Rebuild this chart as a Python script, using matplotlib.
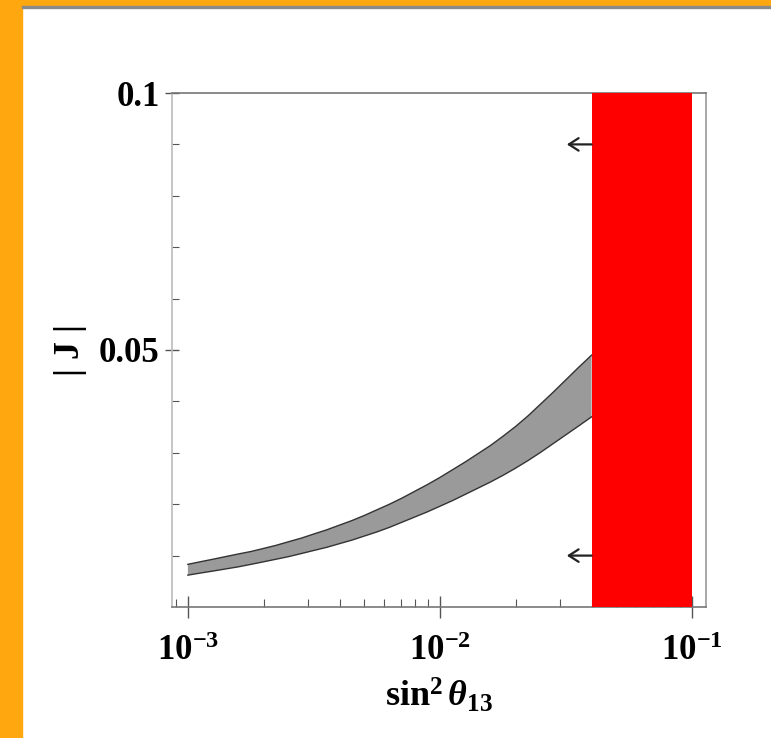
import numpy as np
import matplotlib
matplotlib.use("Agg")
import matplotlib.pyplot as plt
from matplotlib.patches import Rectangle
from matplotlib.ticker import FixedLocator, FuncFormatter, LogLocator, NullFormatter

plt.rcParams['font.family'] = ['Liberation Serif', 'DejaVu Serif']
plt.rcParams['font.weight'] = 'bold'
plt.rcParams['mathtext.fontset'] = 'custom'
plt.rcParams['mathtext.rm'] = 'Liberation Serif:bold'
plt.rcParams['mathtext.it'] = 'Liberation Serif:italic:bold'
plt.rcParams['mathtext.bf'] = 'Liberation Serif:bold'

# band of |J| vs sin^2 theta13
s13 = [0.00100, 0.00112, 0.00126, 0.00141, 0.00158, 0.00178, 0.00200, 0.00224, 0.00251,
       0.00282, 0.00316, 0.00355, 0.00398, 0.00447, 0.00501, 0.00562, 0.00631, 0.00708,
       0.00794, 0.00891, 0.01000, 0.01122, 0.01259, 0.01413, 0.01585, 0.01778, 0.01995,
       0.02239, 0.02512, 0.02818, 0.03162, 0.03548, 0.04000]
j_upper = [0.0083, 0.0088, 0.0093, 0.0098, 0.0103, 0.0108, 0.0114, 0.0120, 0.0127,
           0.0134, 0.0142, 0.0150, 0.0159, 0.0168, 0.0178, 0.0189, 0.0200, 0.0212,
           0.0225, 0.0238, 0.0252, 0.0267, 0.0282, 0.0298, 0.0314, 0.0332, 0.0351,
           0.0372, 0.0395, 0.0418, 0.0442, 0.0466, 0.0490]
j_lower = [0.0062, 0.0066, 0.0070, 0.0074, 0.0078, 0.0083, 0.0088, 0.0093, 0.0098,
           0.0104, 0.0110, 0.0116, 0.0123, 0.0130, 0.0138, 0.0146, 0.0155, 0.0165,
           0.0175, 0.0185, 0.0196, 0.0207, 0.0219, 0.0231, 0.0243, 0.0256, 0.0270,
           0.0285, 0.0301, 0.0318, 0.0335, 0.0352, 0.0370]

# excluded region (red) and arrow markers
excl_lo, excl_hi = 0.04, 0.1
arrow_y = [0.09, 0.01]
arrow_tip = 0.0319

fig = plt.figure(figsize=(7.71, 7.38), dpi=100)
fig.patch.set_facecolor('white')
# orange frame + shadow line
fig.patches.append(Rectangle((0, 0), 22/771, 1, transform=fig.transFigure, color='#FFA70F', zorder=-1))
fig.patches.append(Rectangle((0, 1-6/738), 1, 6/738, transform=fig.transFigure, color='#FFA70F', zorder=-1))
fig.patches.append(Rectangle((22/771, 1-8/738), 1, 2/738, transform=fig.transFigure, color='#8a8a8a', zorder=-1))

ax = fig.add_axes([172/771, 1-607/738, 534/771, 514/738])
ax.set_xscale('log')
ax.set_xlim(10**-3.063, 10**-0.944)
ax.set_ylim(0, 0.1)

ax.fill_between(s13, j_lower, j_upper, facecolor='#9a9a9a', edgecolor='none', zorder=2)
ax.plot(s13, j_upper, color='#333333', lw=1, zorder=3)
ax.plot(s13, j_lower, color='#333333', lw=1, zorder=3)

ax.axvspan(excl_lo, excl_hi, color='#ff0000', zorder=4, lw=0)

for yy in arrow_y:
    ax.annotate('', xy=(arrow_tip, yy), xytext=(excl_lo, yy),
                arrowprops=dict(arrowstyle='->, head_length=0.7, head_width=0.45',
                                color='#222222', lw=1.6, shrinkA=0, shrinkB=0), zorder=5)

# ticks
ax.yaxis.set_major_locator(FixedLocator([0.05, 0.1]))
ax.yaxis.set_minor_locator(FixedLocator([0.01, 0.02, 0.03, 0.04, 0.06, 0.07, 0.08, 0.09]))
ax.yaxis.set_major_formatter(FuncFormatter(lambda v, p: '%g' % v))
ax.xaxis.set_major_locator(FixedLocator([1e-3, 1e-2, 1e-1]))
ax.xaxis.set_minor_locator(LogLocator(base=10, subs=np.arange(2, 10)))
ax.xaxis.set_minor_formatter(NullFormatter())
ax.xaxis.set_major_formatter(FuncFormatter(lambda v, p: r'$10^{%d}$' % round(np.log10(v))))

ax.tick_params(axis='x', which='major', direction='inout', length=16, width=1, colors='#555555',
               labelcolor='black', labelsize=25, pad=12)
ax.tick_params(axis='x', which='minor', direction='in', length=6, width=0.8, colors='#555555')
ax.tick_params(axis='y', which='major', direction='inout', length=10, width=1, colors='#555555',
               labelcolor='black', labelsize=25, pad=4)
ax.tick_params(axis='y', which='minor', direction='in', length=5, width=0.8, colors='#555555')
ax.tick_params(top=False, right=False, which='both')

for side, c in [('left', '#bbbbbb'), ('bottom', '#777777'), ('top', '#777777'), ('right', '#999999')]:
    ax.spines[side].set_color(c)
    ax.spines[side].set_linewidth(1.2)

ax.set_xlabel(r'$\mathrm{sin}^2\,\theta_{13}$', fontsize=26, labelpad=6)
ax.set_ylabel('| J |', fontsize=26, fontweight='bold')
ax.yaxis.set_label_coords(-0.16, 0.5)

fig.savefig('out.png', dpi=100)
